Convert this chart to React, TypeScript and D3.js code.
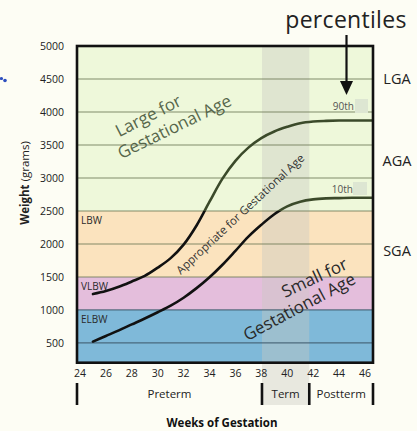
import React from "react";
import * as d3 from "d3";

const yTicks = [500, 1000, 1500, 2000, 2500, 3000, 3500, 4000, 4500, 5000];
const xTicks = [24, 26, 28, 30, 32, 34, 36, 38, 40, 42, 44, 46];

const bandNames = ["ELBW", "VLBW", "LBW", ""];
const bandLow = [200, 1000, 1500, 2500];
const bandHigh = [1000, 1500, 2500, 5000];
const bandColors = ["#7fb9d9", "#e4bedc", "#fbe3be", "#eef8da"];

const weeks = [25, 26, 27, 28, 29, 30, 31, 32, 33, 34, 35, 36, 37, 38, 39, 40, 41, 42, 43, 44, 45, 46, 46.7];
const p90 = [1240, 1285, 1350, 1430, 1515, 1640, 1785, 1990, 2280, 2640, 2990, 3260, 3460, 3605, 3705, 3775, 3830, 3855, 3865, 3870, 3870, 3870, 3870];
const p10 = [520, 605, 690, 780, 870, 965, 1065, 1185, 1330, 1495, 1685, 1895, 2110, 2290, 2450, 2570, 2640, 2675, 2690, 2695, 2700, 2700, 2700];

const periods = ["Preterm", "Term", "Postterm"];
const periodStart = [23.77, 38.05, 41.7];
const periodEnd = [38.05, 41.7, 46.62];

const sideLabels = ["LGA", "AGA", "SGA"];
const sideValues = [4500, 3250, 1900];

export default function App() {
  const W = 417, H = 431;
  const x = d3.scaleLinear().domain([23.77, 46.62]).range([77, 373]);
  const y = d3.scaleLinear().domain([200, 5000]).range([362.7, 46]);
  const line = d3
    .line<number>()
    .x((_, i) => x(weeks[i]))
    .y((d) => y(d))
    .curve(d3.curveCatmullRom.alpha(0.5));
  const font = "'Open Sans', 'Noto Sans', sans-serif";
  const x0 = x.range()[0], x1 = x.range()[1];
  const yTop = y(5000), yBot = y(200);
  const termX0 = x(periodStart[1]), termX1 = x(periodEnd[1]);

  return (
    <svg
      width={W}
      height={H}
      style={{ position: "absolute", left: 0, top: 0 }}
      fontFamily={font}
    >
      <defs>
        <clipPath id="plotClip">
          <rect x={x0} y={yTop} width={x1 - x0} height={yBot - yTop} />
        </clipPath>
        <clipPath id="greenClip">
          <rect x={x0} y={yTop} width={x1 - x0} height={y(2500) - yTop} />
        </clipPath>
        <clipPath id="lowClip">
          <rect x={x0} y={y(2500)} width={x1 - x0} height={yBot - y(2500)} />
        </clipPath>
      </defs>
      <rect x={0} y={0} width={W} height={H} fill="#fdfdf4" />
      <circle cx={1.5} cy={78.5} r={1.6} fill="#2d4fbf" />
      <circle cx={5} cy={80.5} r={1.8} fill="#2d4fbf" />

      {/* bands */}
      {bandLow.map((lo, i) => (
        <rect
          key={"b" + i}
          x={x0}
          y={y(bandHigh[i])}
          width={x1 - x0}
          height={y(lo) - y(bandHigh[i])}
          fill={bandColors[i]}
        />
      ))}
      {/* term overlay */}
      <rect x={termX0} y={yTop} width={termX1 - termX0} height={405 - yTop} fill="#c8c8c0" opacity={0.4} />

      {/* gridlines */}
      {yTicks.slice(0, -1).map((t) => (
        <line
          key={"g" + t}
          x1={x0}
          x2={x1}
          y1={y(t)}
          y2={y(t)}
          stroke={t <= 1000 ? "#3f5c6e" : "#6e7a58"}
          strokeOpacity={0.85}
          strokeWidth={1.1}
        />
      ))}

      {/* band labels */}
      {bandNames.map((n, i) =>
        n ? (
          <text key={"bn" + i} x={x0 + 4} y={y(bandHigh[i]) + 13} fontSize={10} fill="#2a2a2a">
            {n}
          </text>
        ) : null
      )}

      {/* region labels */}
      <g fill="#56664a" fontSize={17}>
        <text transform="translate(151,121) rotate(-27)" textAnchor="middle">Large for</text>
        <text transform="translate(177,132) rotate(-26)" textAnchor="middle">Gestational Age</text>
      </g>
      <text transform="translate(243,217) rotate(-43)" textAnchor="middle" fontSize={11.5} fill="#333">
        Appropriate for Gestational Age
      </text>
      <g fill="#2a2a2a" fontSize={17}>
        <text transform="translate(317,283) rotate(-25)" textAnchor="middle">Small for</text>
        <text transform="translate(302,312) rotate(-28)" textAnchor="middle">Gestational Age</text>
      </g>

      {/* curves */}
      <g clipPath="url(#plotClip)" fill="none" strokeWidth={2.6} strokeLinecap="round">
        <g clipPath="url(#greenClip)">
          <path d={line(p90) ?? ""} stroke="#3b4a2a" />
          <path d={line(p10) ?? ""} stroke="#3b4a2a" />
        </g>
        <g clipPath="url(#lowClip)">
          <path d={line(p90) ?? ""} stroke="#111" />
          <path d={line(p10) ?? ""} stroke="#111" />
        </g>
      </g>

      {/* percentile tags */}
      <text x={354} y={110} textAnchor="end" fontSize={10} fill="#555">90th</text>
      <rect x={355} y={99} width={13} height={14} fill="#dde6d2" />
      <text x={353} y={193} textAnchor="end" fontSize={10} fill="#555">10th</text>
      <rect x={353} y={182} width={14} height={13} fill="#dde6d2" />

      {/* frame */}
      <rect x={x0} y={yTop} width={x1 - x0} height={yBot - yTop} fill="none" stroke="#111" strokeWidth={2.6} />

      {/* y ticks */}
      {yTicks.map((t) => (
        <text key={"yt" + t} x={64} y={y(t) + 4} textAnchor="end" fontSize={10.5} fill="#222">
          {t}
        </text>
      ))}
      <text transform="translate(29,183) rotate(-90)" textAnchor="middle" fontSize={11.5} fill="#222">
        <tspan fontWeight="bold">Weight</tspan> (grams)
      </text>

      {/* x ticks */}
      {xTicks.map((t) => (
        <text key={"xt" + t} x={x(t)} y={377} textAnchor="middle" fontSize={10.5} fill="#222">
          {t}
        </text>
      ))}

      {/* periods */}
      {[periodStart[0], periodStart[1], periodStart[2], periodEnd[2]].map((v, i) => (
        <line key={"pb" + i} x1={x(v)} x2={x(v)} y1={383} y2={405} stroke="#111" strokeWidth={2.6} />
      ))}
      {periods.map((p, i) => (
        <text
          key={"p" + i}
          x={(x(periodStart[i]) + x(periodEnd[i])) / 2}
          y={398}
          textAnchor="middle"
          fontSize={11.5}
          fill="#222"
        >
          {p}
        </text>
      ))}
      <text x={222} y={427} textAnchor="middle" fontSize={11.5} fontWeight="bold" fill="#111">
        Weeks of Gestation
      </text>

      {/* side labels */}
      {sideLabels.map((s, i) => (
        <text key={"s" + i} x={397} y={y(sideValues[i]) + 5} textAnchor="middle" fontSize={14.5} fill="#222">
          {s}
        </text>
      ))}

      {/* percentiles annotation */}
      <text x={346} y={28} textAnchor="middle" fontSize={23} fill="#222" fontWeight={400} letterSpacing={0.3}>
        percentiles
      </text>
      <line x1={346.5} x2={346.5} y1={35} y2={82} stroke="#111" strokeWidth={2.2} />
      <path d="M340,81 L353,81 L346.5,95 Z" fill="#111" />
    </svg>
  );
}
